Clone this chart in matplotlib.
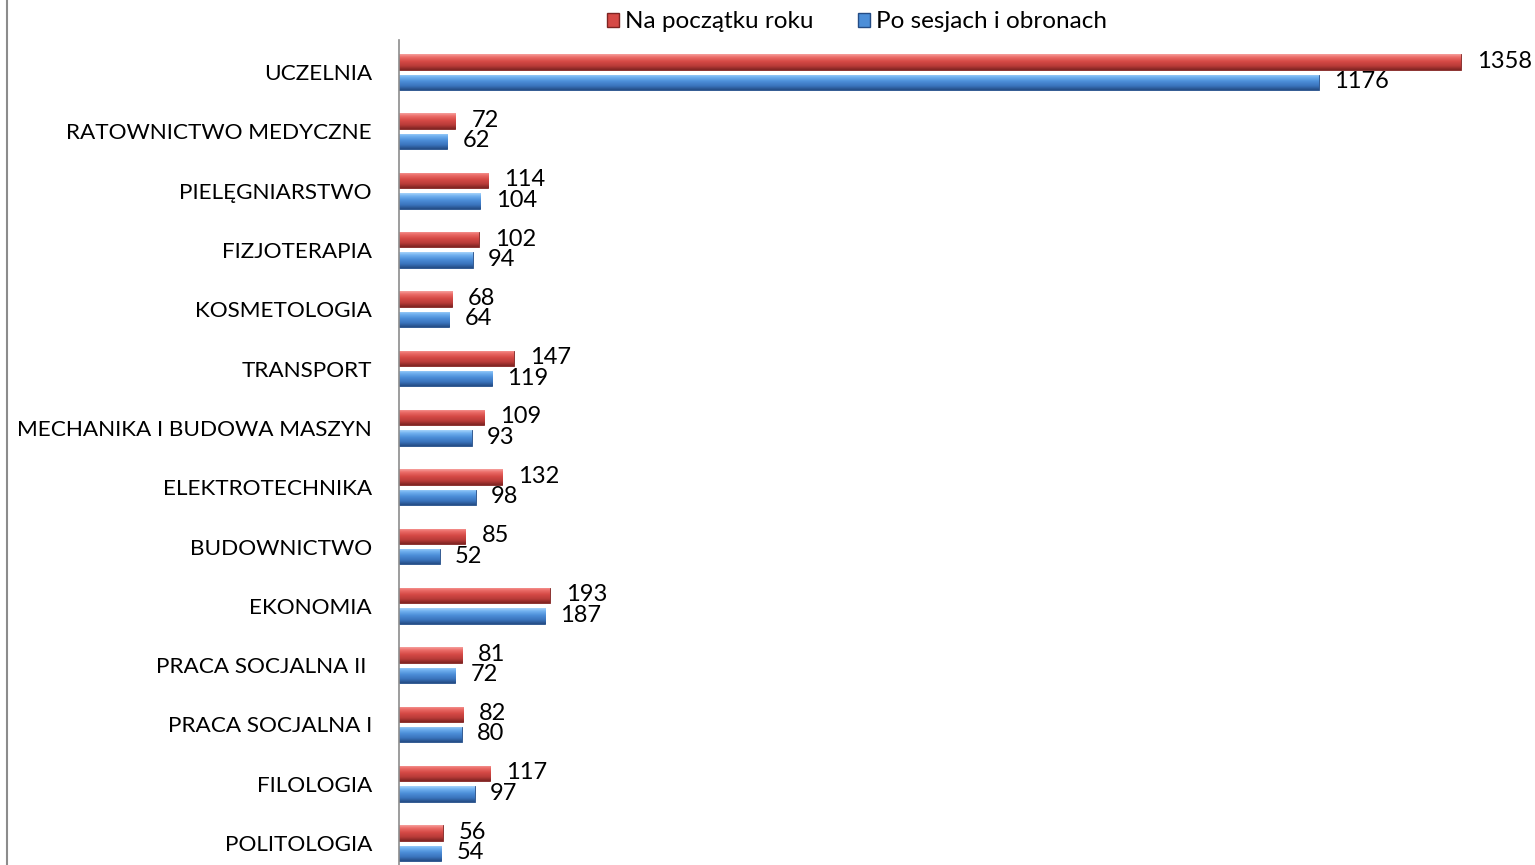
import matplotlib
matplotlib.use("Agg")
import matplotlib.pyplot as plt
import numpy as np
from matplotlib.lines import Line2D
from matplotlib.patches import Patch
from matplotlib.colors import LinearSegmentedColormap

categories = ["UCZELNIA", "RATOWNICTWO MEDYCZNE", "PIELĘGNIARSTWO", "FIZJOTERAPIA",
              "KOSMETOLOGIA", "TRANSPORT", "MECHANIKA I BUDOWA MASZYN", "ELEKTROTECHNIKA",
              "BUDOWNICTWO", "EKONOMIA", "PRACA SOCJALNA II ", "PRACA SOCJALNA I",
              "FILOLOGIA", "POLITOLOGIA"]
start_year = [1358, 72, 114, 102, 68, 147, 109, 132, 85, 193, 81, 82, 117, 56]
after_sessions = [1176, 62, 104, 94, 64, 119, 93, 98, 52, 187, 72, 80, 97, 54]
series_names = ["Na początku roku", "Po sesjach i obronach"]

plt.rcParams['font.family'] = ['Lato', 'DejaVu Sans']

W, H = 1535, 865
fig = plt.figure(figsize=(W / 100, H / 100), dpi=100)
ax = fig.add_axes([399 / W, 0, (W - 399) / W, (H - 40) / H])

y = np.arange(len(categories))
h = 0.26
off = 0.172

red_cmap = LinearSegmentedColormap.from_list(
    "r", [(0, "#F6A09D"), (0.18, "#EC6E6A"), (0.45, "#D64A46"), (0.75, "#B83B38"), (1, "#7E2422")])
blue_cmap = LinearSegmentedColormap.from_list(
    "b", [(0, "#A6D4FB"), (0.18, "#72B2F0"), (0.45, "#4C8ED8"), (0.75, "#3A73BC"), (1, "#244C85")])
grad = np.linspace(0, 1, 64).reshape(-1, 1)

def draw(vals, yy, cmap, edge):
    bars = ax.barh(yy, vals, height=h, color=cmap(0.5), edgecolor=edge, linewidth=0.6, zorder=2)
    for p in bars:
        x0, y0 = p.get_x(), p.get_y()
        im = ax.imshow(grad, cmap=cmap, aspect="auto", zorder=3,
                       extent=[x0, x0 + p.get_width(), y0 + p.get_height(), y0],
                       interpolation="bilinear")
        im.set_clip_path(p)
    return bars

draw(start_year, y - off, red_cmap, "#7E2422")
draw(after_sessions, y + off, blue_cmap, "#244C85")

xmax = (W - 399) / 0.782
ax.set_xlim(0, xmax)
ax.set_ylim(13 + 0.37, -0.54)
ax.set_aspect("auto")

fs_val = 17
fs_cat = 16.2
for i in range(len(categories)):
    ax.annotate(str(start_year[i]), (start_year[i], y[i] - off), xytext=(11.5, 0.5),
                textcoords="offset points", va="center", ha="left", fontsize=fs_val, color="black")
    ax.annotate(str(after_sessions[i]), (after_sessions[i], y[i] + off), xytext=(11, 0.5),
                textcoords="offset points", va="center", ha="left", fontsize=fs_val, color="black")

ax.set_yticks(y)
ax.set_yticklabels(categories, fontsize=fs_cat)
ax.tick_params(axis="y", length=0, pad=19.5)
ax.set_xticks([])
for s in ["top", "right", "bottom"]:
    ax.spines[s].set_visible(False)
ax.spines["left"].set_color("#8C8C8C")
ax.spines["left"].set_linewidth(1.2)
ax.spines["left"].set_zorder(5)

handles = [Patch(facecolor=red_cmap(0.45), edgecolor="#7E2422"),
           Patch(facecolor=blue_cmap(0.45), edgecolor="#244C85")]
fig.legend(handles, series_names, loc="center", bbox_to_anchor=(857 / W, 1 - 22 / H),
           ncol=2, frameon=False, fontsize=17.5, handlelength=0.5, handleheight=0.5,
           handletextpad=0.25, columnspacing=1.85, borderpad=0)

fig.add_artist(Line2D([7 / W, 7 / W], [0, 1], color="#8C8C8C", linewidth=1.5))

fig.savefig("out.png", dpi=100)
